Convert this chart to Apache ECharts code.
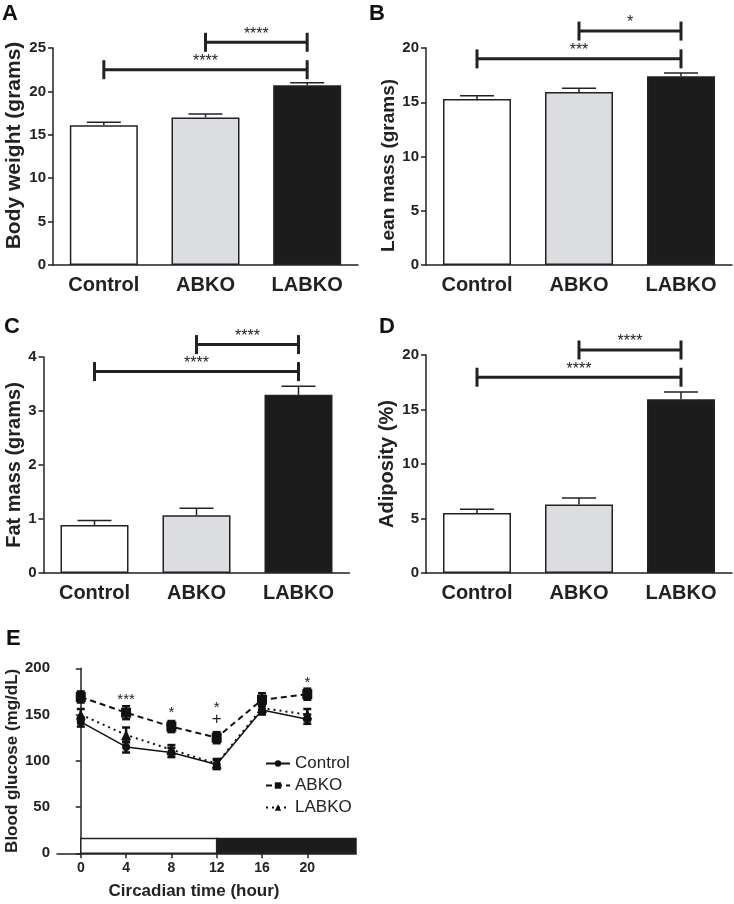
<!DOCTYPE html>
<html><head><meta charset="utf-8">
<script src="https://cdn.jsdelivr.net/npm/echarts@6/dist/echarts.min.js"></script>
<style>html,body{margin:0;padding:0;background:#fff}#c{width:734px;height:904px}</style>
</head><body><div id="c"></div>
<script>
// ---------- data ----------
const categories = ['Control', 'ABKO', 'LABKO'];
const barColors = ['#ffffff', '#dcdde0', '#1c1c1c'];

const bodyWeight = [16.1, 17.0, 20.7];
const bodyWeightSem = [0.35, 0.4, 0.3];
const bodyWeightSig = [[1, 2, 25.66], [0, 2, 22.5]];
const bodyWeightSigText = ['****', '****'];

const leanMass = [15.3, 15.95, 17.4];
const leanMassSem = [0.3, 0.35, 0.3];
const leanMassSig = [[1, 2, 21.56], [0, 2, 19.0]];
const leanMassSigText = ['*', '***'];

const fatMass = [0.89, 1.07, 3.30];
const fatMassSem = [0.08, 0.13, 0.16];
const fatMassSig = [[1, 2, 4.23], [0, 2, 3.73]];
const fatMassSigText = ['****', '****'];

const adiposity = [5.5, 6.28, 15.95];
const adiposityErr = [0.35, 0.6, 0.65];
const adipositySig = [[1, 2, 20.46], [0, 2, 17.96]];
const adipositySigText = ['****', '****'];

const hours = [0, 4, 8, 12, 16, 20];
const glucoseControl = [142, 115, 109, 96, 155, 145];
const glucoseControlSem = [5, 6, 5, 5, 5, 5];
const glucoseABKO = [169, 152, 137, 125, 166, 172];
const glucoseABKOSem = [6, 7, 6, 6, 7, 6];
const glucoseLABKO = [150, 128, 112, 97, 157, 150];
const glucoseLABKOSem = [6, 8, 5, 5, 6, 6];
const sigX = [4, 8, 12, 12, 20];
const sigY = [169, 155, 161, 145, 187];
const sigText = ['***', '*', '*', '+', '*'];
const periodStart = [0, 12];
const periodEnd = [12, 24.3];
const periodFill = ['#ffffff', '#1c1c1c'];
const periodHeight = 16;

// ---------- style ----------
const INK = '#222222';
const FONT = '"Liberation Sans", Arial, sans-serif';

function errRender(params, api) {
  const x = api.value(0), m = api.value(1), s = api.value(2);
  const p0 = api.coord([x, m]), p1 = api.coord([x, m + s]);
  return { type: 'group', children: [
    { type: 'line', shape: { x1: p0[0], y1: p0[1], x2: p1[0], y2: p1[1] }, style: { stroke: INK, lineWidth: 1.5 } },
    { type: 'line', shape: { x1: p1[0] - 17, y1: p1[1], x2: p1[0] + 17, y2: p1[1] }, style: { stroke: INK, lineWidth: 1.5 } }
  ]};
}
function bracketRender(labels) {
  return function (params, api) {
    const a = api.coord([api.value(0), api.value(2)]);
    const b = api.coord([api.value(1), api.value(2)]);
    const y = a[1];
    const st = { stroke: INK, lineWidth: 3 };
    return { type: 'group', children: [
      { type: 'line', shape: { x1: a[0], y1: y, x2: b[0], y2: y }, style: st },
      { type: 'line', shape: { x1: a[0], y1: y - 9.5, x2: a[0], y2: y + 9.5 }, style: st },
      { type: 'line', shape: { x1: b[0], y1: y - 9.5, x2: b[0], y2: y + 9.5 }, style: st },
      { type: 'text', style: { text: labels[params.dataIndex], x: (a[0] + b[0]) / 2, y: y - 8, align: 'center', verticalAlign: 'middle', font: '16px ' + FONT, fill: INK } }
    ]};
  };
}

const panels = [
  { name: 'Body weight (grams)', nameSize: 21, nameGap: 28, namePad: [0, 0, 0, 22], max: 25, interval: 5, vals: bodyWeight, sem: bodyWeightSem, sig: bodyWeightSig, sigText: bodyWeightSigText,
    grid: { left: 53, top: 48, width: 305, height: 217 } },
  { name: 'Lean mass (grams)', nameSize: 19, nameGap: 27, namePad: [0, 18, 0, 0], max: 20, interval: 5, vals: leanMass, sem: leanMassSem, sig: leanMassSig, sigText: leanMassSigText,
    grid: { left: 426, top: 48, width: 306, height: 217 } },
  { name: 'Fat mass (grams)', nameSize: 20, nameGap: 19, namePad: 0, max: 4, interval: 1, vals: fatMass, sem: fatMassSem, sig: fatMassSig, sigText: fatMassSigText,
    grid: { left: 43.5, top: 357, width: 306, height: 216 } },
  { name: 'Adiposity (%)', nameSize: 20, nameGap: 29, namePad: 0, max: 20, interval: 5, vals: adiposity, sem: adiposityErr, sig: adipositySig, sigText: adipositySigText,
    grid: { left: 426, top: 355, width: 306, height: 218 } }
];

const grids = [], xAxes = [], yAxes = [], series = [];
const axisLineStyle = { color: INK, width: 1.5 };

panels.forEach((p, i) => {
  grids.push(p.grid);
  xAxes.push({ type: 'category', gridIndex: i, data: categories,
    axisLine: { lineStyle: axisLineStyle }, axisTick: { show: false },
    axisLabel: { color: INK, fontFamily: FONT, fontWeight: 'bold', fontSize: 20, margin: 10 } });
  yAxes.push({ type: 'value', gridIndex: i, min: 0, max: p.max, interval: p.interval,
    name: p.name, nameLocation: 'middle', nameGap: p.nameGap,
    nameTextStyle: { color: INK, fontFamily: FONT, fontWeight: 'bold', fontSize: p.nameSize, padding: p.namePad },
    axisLine: { show: true, lineStyle: axisLineStyle }, axisTick: { show: true, length: 5, lineStyle: axisLineStyle },
    splitLine: { show: false },
    axisLabel: { color: INK, fontFamily: FONT, fontWeight: 'bold', fontSize: 15, margin: 7 } });
  series.push({ type: 'bar', xAxisIndex: i, yAxisIndex: i, barWidth: 68,
    data: p.vals.map((v, k) => ({ value: v, itemStyle: { color: barColors[k] } })),
    itemStyle: { borderColor: INK, borderWidth: 1.5 } });
  series.push({ type: 'custom', xAxisIndex: i, yAxisIndex: i, renderItem: errRender, z: 3,
    data: p.vals.map((v, k) => [k, v, p.sem[k]]) });
  series.push({ type: 'custom', xAxisIndex: i, yAxisIndex: i, renderItem: bracketRender(p.sigText), z: 4, clip: false,
    data: p.sig });
});

// ---------- panel E ----------
const gi = 4;
grids.push({ left: 57, top: 668.3, width: 299, height: 185 });
xAxes.push({ type: 'value', gridIndex: gi, min: -2.1, max: 24.3,
  name: 'Circadian time (hour)', nameLocation: 'middle', nameGap: 30,
  nameTextStyle: { color: INK, fontFamily: FONT, fontWeight: 'bold', fontSize: 17, padding: [0, 25, 0, 0] },
  axisLine: { onZero: false, lineStyle: axisLineStyle },
  axisTick: { show: true, length: 5, lineStyle: axisLineStyle, customValues: hours },
  axisLabel: { color: INK, fontFamily: FONT, fontWeight: 'bold', fontSize: 14, margin: 8, customValues: hours },
  splitLine: { show: false } });
yAxes.push({ type: 'value', gridIndex: gi, min: 0, max: 200, interval: 50,
  name: 'Blood glucose (mg/dL)', nameLocation: 'middle', nameGap: 35,
  nameTextStyle: { color: INK, fontFamily: FONT, fontWeight: 'bold', fontSize: 17 },
  axisLine: { show: true, lineStyle: axisLineStyle }, axisTick: { show: true, length: 5, lineStyle: axisLineStyle },
  splitLine: { show: false },
  axisLabel: { color: INK, fontFamily: FONT, fontWeight: 'bold', fontSize: 15, margin: 7 } });

series.push({ type: 'custom', xAxisIndex: gi, yAxisIndex: gi, z: 1,
  renderItem: function (params, api) {
    const a = api.coord([api.value(0), 0]), b = api.coord([api.value(1), periodHeight]);
    return { type: 'rect', shape: { x: a[0], y: b[1], width: b[0] - a[0], height: a[1] - b[1] },
      style: { fill: periodFill[params.dataIndex], stroke: INK, lineWidth: 1.5 } };
  },
  data: periodStart.map((s, k) => [s, periodEnd[k]]) });

function glucoseErr(params, api) {
  const x = api.value(0), m = api.value(1), s = api.value(2);
  const a = api.coord([x, m - s]), b = api.coord([x, m + s]);
  const st = { stroke: '#111', lineWidth: 2.5 };
  return { type: 'group', children: [
    { type: 'line', shape: { x1: a[0], y1: a[1], x2: b[0], y2: b[1] }, style: st },
    { type: 'line', shape: { x1: a[0] - 4, y1: a[1], x2: a[0] + 4, y2: a[1] }, style: st },
    { type: 'line', shape: { x1: b[0] - 4, y1: b[1], x2: b[0] + 4, y2: b[1] }, style: st }
  ]};
}
const groups = [
  { name: 'Control', vals: glucoseControl, sem: glucoseControlSem, type: 'solid', symbol: 'circle', size: 8, width: 1.5 },
  { name: 'ABKO', vals: glucoseABKO, sem: glucoseABKOSem, type: [6, 4], symbol: 'rect', size: 10, width: 2 },
  { name: 'LABKO', vals: glucoseLABKO, sem: glucoseLABKOSem, type: [2, 4], symbol: 'triangle', size: 10, width: 2 }
];
groups.forEach(g => {
  series.push({ type: 'custom', xAxisIndex: gi, yAxisIndex: gi, z: 2, renderItem: glucoseErr,
    data: hours.map((h, k) => [h, g.vals[k], g.sem[k]]) });
  series.push({ type: 'line', name: g.name, xAxisIndex: gi, yAxisIndex: gi, z: 3,
    symbol: g.symbol, symbolSize: g.size,
    lineStyle: { color: '#111', width: g.width, type: g.type },
    itemStyle: { color: '#111' },
    data: hours.map((h, k) => [h, g.vals[k]]) });
});
series.push({ type: 'custom', xAxisIndex: gi, yAxisIndex: gi, z: 4, clip: false,
  renderItem: function (params, api) {
    const p = api.coord([api.value(0), api.value(1)]);
    const t = sigText[params.dataIndex];
    return { type: 'text', style: { text: t, x: p[0], y: p[1] + (t === '+' ? 0 : 3), align: 'center', verticalAlign: 'middle',
      font: (t === '+' ? '17px ' : '15px ') + FONT, fill: INK } };
  },
  data: sigX.map((x, k) => [x, sigY[k]]) });

const titleStyle = { color: '#111', fontFamily: FONT, fontWeight: 'bold', fontSize: 22 };
const option = {
  backgroundColor: '#ffffff',
  animation: false,
  title: [
    { text: 'A', left: 2, top: 3, textStyle: titleStyle, padding: 0 },
    { text: 'B', left: 369, top: 3, textStyle: titleStyle, padding: 0 },
    { text: 'C', left: 4, top: 316, textStyle: titleStyle, padding: 0 },
    { text: 'D', left: 379, top: 316, textStyle: titleStyle, padding: 0 },
    { text: 'E', left: 6, top: 628, textStyle: titleStyle, padding: 0 }
  ],
  legend: { orient: 'vertical', left: 260, top: 750, itemWidth: 24, itemHeight: 8, itemGap: 5,
    data: ['Control', 'ABKO', 'LABKO'],
    textStyle: { color: INK, fontFamily: FONT, fontSize: 17 } },
  grid: grids, xAxis: xAxes, yAxis: yAxes, series: series
};
const chart = echarts.init(document.getElementById('c'), null, { renderer: 'canvas' });
chart.setOption(option);
</script></body></html>
